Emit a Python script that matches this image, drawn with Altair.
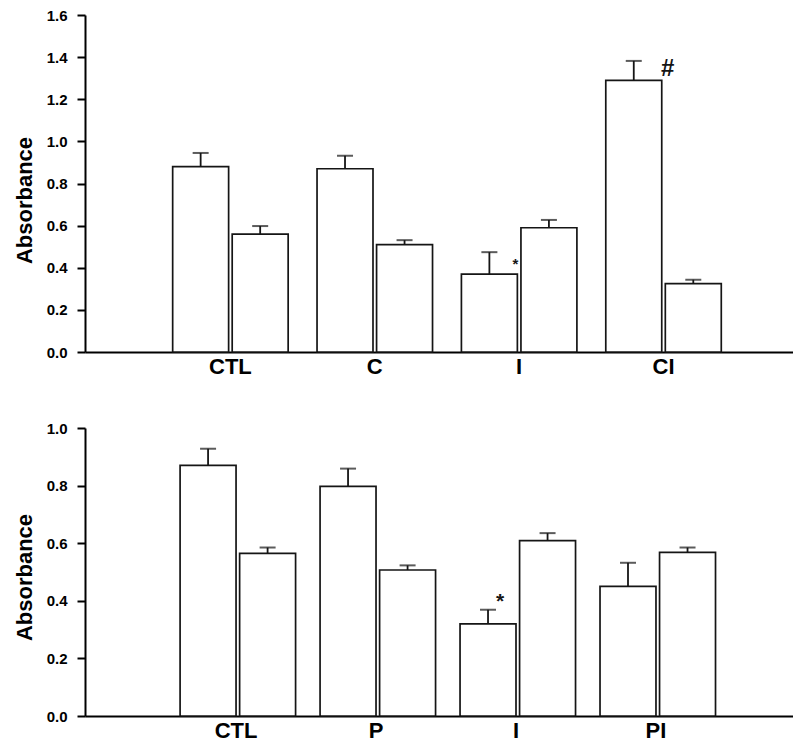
import altair as alt
import pandas as pd

# ---------------- data ----------------
series_names = ["Series 1", "Series 2"]

top_groups = ["CTL", "C", "I", "CI"]
top_mean_1 = [0.88, 0.87, 0.37, 1.29]
top_err_1 = [0.065, 0.062, 0.104, 0.092]
top_mean_2 = [0.56, 0.51, 0.59, 0.325]
top_err_2 = [0.038, 0.021, 0.037, 0.018]
top_annot_groups = ["I", "CI"]
top_annot_text = ["*", "#"]

bot_groups = ["CTL", "P", "I", "PI"]
bot_mean_1 = [0.87, 0.797, 0.32, 0.45]
bot_err_1 = [0.058, 0.062, 0.049, 0.082]
bot_mean_2 = [0.565, 0.507, 0.609, 0.568]
bot_err_2 = [0.02, 0.016, 0.026, 0.017]
bot_annot_groups = ["I"]
bot_annot_text = ["*"]

top_ticks = [0.0, 0.2, 0.4, 0.6, 0.8, 1.0, 1.2, 1.4, 1.6]
bot_ticks = [0.0, 0.2, 0.4, 0.6, 0.8, 1.0]

FONT = "Liberation Sans"
INK = "#151515"


def make_df(groups, m1, e1, m2, e2):
    rows = []
    for g, a, ea, b, eb in zip(groups, m1, e1, m2, e2):
        rows.append({"group": g, "series": series_names[0], "mean": a, "upper": a + ea})
        rows.append({"group": g, "series": series_names[1], "mean": b, "upper": b + eb})
    return pd.DataFrame(rows)


def make_annot(groups, texts, df):
    rows = []
    for g, t in zip(groups, texts):
        sub = df[(df["group"] == g) & (df["series"] == series_names[0])]
        rows.append({"group": g, "series": series_names[0],
                     "upper": float(sub["upper"].iloc[0]), "label": t})
    return pd.DataFrame(rows)


def panel(df, groups, ymax, ticks, width, height, pad_outer, align, title_y, annots):
    x = alt.X(
        "group:N", sort=groups,
        scale=alt.Scale(paddingInner=0.2, paddingOuter=pad_outer, align=align),
        axis=alt.Axis(title=None, labelAngle=0, ticks=False, labelFontSize=22,
                      labelFont=FONT, labelFontWeight="bold", labelPadding=4,
                      labelColor="black", domainColor="black", domainWidth=2),
    )
    xo = alt.XOffset("series:N", sort=series_names, scale=alt.Scale(paddingInner=0.06))
    y_scale = alt.Scale(domain=[0, ymax], nice=False, zero=True)
    y = alt.Y(
        "mean:Q", scale=y_scale,
        axis=alt.Axis(values=ticks, format=".1f", title="Absorbance",
                      titleFont=FONT, titleFontSize=22, titleFontWeight="bold",
                      titleColor="black", titlePadding=10, titleY=title_y,
                      labelFont=FONT, labelFontSize=15, labelFontWeight="bold",
                      labelColor="black", labelPadding=10, tickSize=8,
                      tickWidth=2, tickColor="black", domainColor="black",
                      domainWidth=2, grid=False),
    )
    base = alt.Chart(df)
    bars = base.mark_bar(fill="white", stroke=INK, strokeWidth=1.7).encode(x=x, xOffset=xo, y=y)
    rules = base.mark_rule(color=INK, strokeWidth=1.8).encode(
        x=x, xOffset=xo, y=alt.Y("mean:Q", scale=y_scale), y2="upper:Q")
    caps = base.mark_tick(color=INK, thickness=2, size=16).encode(
        x=x, xOffset=xo, y=alt.Y("upper:Q", scale=y_scale))
    layers = [bars, rules, caps]
    for adf, style in annots:
        layers.append(
            alt.Chart(adf).mark_text(font=FONT, fontWeight="bold", color=INK,
                                     baseline="middle", align="center", **style)
            .encode(x=x, xOffset=xo, y=alt.Y("upper:Q", scale=y_scale), text="label:N")
        )
    return alt.layer(*layers).properties(width=width, height=height)


top_df = make_df(top_groups, top_mean_1, top_err_1, top_mean_2, top_err_2)
bot_df = make_df(bot_groups, bot_mean_1, bot_err_1, bot_mean_2, bot_err_2)

top_ann = make_annot(top_annot_groups, top_annot_text, top_df)
bot_ann = make_annot(bot_annot_groups, bot_annot_text, bot_df)

top_chart = panel(
    top_df, top_groups, 1.6, top_ticks, 708, 337, 0.552, 0.55, 185,
    [(top_ann.iloc[[0]], {"dx": 26, "dy": 12, "fontSize": 15}),
     (top_ann.iloc[[1]], {"dx": 34, "dy": 8, "fontSize": 24})],
)
bot_chart = panel(
    bot_df, bot_groups, 1.0, bot_ticks, 708, 288, 0.629, 0.54, 149,
    [(bot_ann.iloc[[0]], {"dx": 12, "dy": -8, "fontSize": 21})],
)

chart = (
    alt.vconcat(top_chart, bot_chart, spacing=44)
    .configure_view(stroke=None)
    .properties(padding={"left": 5, "top": 0, "right": 0, "bottom": 0})
)

chart.save("out.html", embed_options={"renderer": "svg", "actions": False})
